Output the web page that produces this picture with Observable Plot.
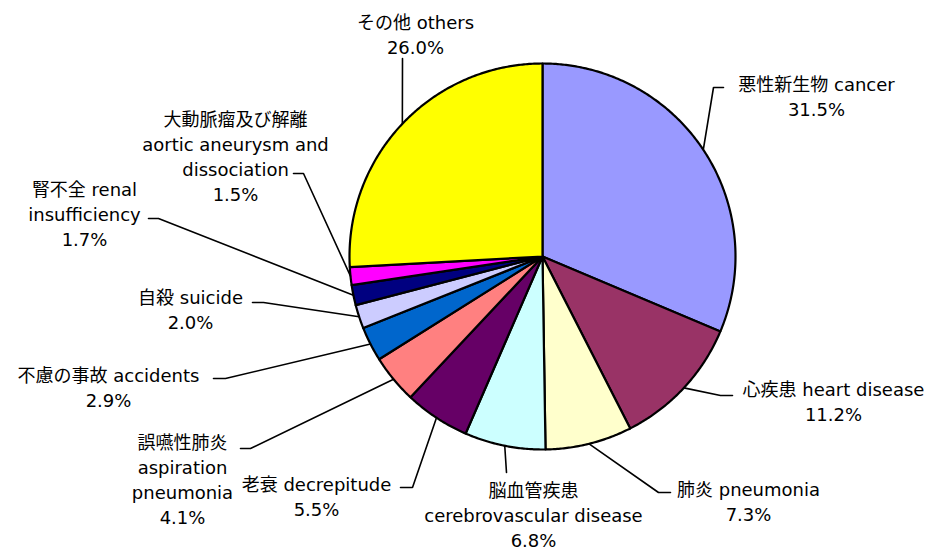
<!DOCTYPE html>
<html>
<head>
<meta charset="utf-8">
<script src="https://cdn.jsdelivr.net/npm/d3@7"></script>
<script src="https://cdn.jsdelivr.net/npm/@observablehq/plot@0.6"></script>
<style>
  html, body { margin: 0; padding: 0; background: #ffffff; }
  #chart svg { display: block; }
</style>
</head>
<body>
<div id="chart"></div>
<script>
// ---- data ----
const causesJa = ["悪性新生物", "心疾患", "肺炎", "脳血管疾患", "老衰", "誤嚥性肺炎", "不慮の事故", "自殺", "腎不全", "大動脈瘤及び解離", "その他"];
const causesEn = ["cancer", "heart disease", "pneumonia", "cerebrovascular disease", "decrepitude", "aspiration pneumonia", "accidents", "suicide", "renal insufficiency", "aortic aneurysm and dissociation", "others"];
const shares = [31.5, 11.2, 7.3, 6.8, 5.5, 4.1, 2.9, 2.0, 1.7, 1.5, 26.0];
const shareLabels = ["31.5%", "11.2%", "7.3%", "6.8%", "5.5%", "4.1%", "2.9%", "2.0%", "1.7%", "1.5%", "26.0%"];
// label text as wrapped in the reference
const labelLines = [
  ["悪性新生物 cancer"],
  ["心疾患 heart disease"],
  ["肺炎 pneumonia"],
  ["脳血管疾患", "cerebrovascular disease"],
  ["老衰 decrepitude"],
  ["誤嚥性肺炎", "aspiration", "pneumonia"],
  ["不慮の事故 accidents"],
  ["自殺 suicide"],
  ["腎不全 renal", "insufficiency"],
  ["大動脈瘤及び解離", "aortic aneurysm and", "dissociation"],
  ["その他 others"]
];

// ---- style ----
const palette = ["#9999FF", "#993366", "#FFFFCC", "#CCFFFF", "#660066", "#FF8080", "#0066CC", "#CCCCFF", "#000080", "#FF00FF", "#FFFF00"];

// ---- layout (plot units = pixels) ----
const CX = 542, CY = 256, R = 193;
const LH = 25;       // label line height
const FS = 18;       // font size
// label: centre x, centre y of first line; leader: elbow point and end of horizontal tick
const labelLayout = [
  {lx: 816, ly: 82,  ex: 713, ey: 87,  hx: 723},
  {lx: 833, ly: 387, ex: 720, ey: 395, hx: 732},
  {lx: 748, ly: 487, ex: 658, ey: 492, hx: 670},
  {lx: 533, ly: 488, ex: 506, ey: 472, hx: 506},
  {lx: 316, ly: 482, ex: 412, ey: 487, hx: 400},
  {lx: 182, ly: 440, ex: 250, ey: 448, hx: 240},
  {lx: 108, ly: 373, ex: 225, ey: 378, hx: 213},
  {lx: 190, ly: 295, ex: 263, ey: 302, hx: 252},
  {lx: 84,  ly: 187, ex: 158, ey: 218, hx: 148},
  {lx: 235, ly: 117, ex: 303, ey: 173, hx: 293},
  {lx: 415, ly: 20,  ex: 402, ey: 58,  hx: 402}
];

// ---- build geometry from data ----
const arcs = d3.pie().sort(null).value(d => d)(shares);

const slicePts = [];
arcs.forEach((a, i) => {
  slicePts.push({i, x: CX, y: CY, c: palette[i]});
  const n = Math.max(2, Math.ceil((a.endAngle - a.startAngle) / (Math.PI / 360)));
  for (let k = 0; k <= n; k++) {
    const t = a.startAngle + (a.endAngle - a.startAngle) * k / n;
    slicePts.push({i, x: CX + R * Math.sin(t), y: CY - R * Math.cos(t), c: palette[i]});
  }
});

const leaderPts = [];
arcs.forEach((a, i) => {
  const m = (a.startAngle + a.endAngle) / 2;
  const L = labelLayout[i];
  leaderPts.push({i, x: CX + R * Math.sin(m), y: CY - R * Math.cos(m)});
  leaderPts.push({i, x: L.ex, y: L.ey});
  if (L.hx !== L.ex) leaderPts.push({i, x: L.hx, y: L.ey});
});

const labels = arcs.map((a, i) => {
  const lines = [...labelLines[i], shareLabels[i]];
  const L = labelLayout[i];
  return {x: L.lx, y: L.ly + (lines.length - 1) * LH / 2, text: lines.join("\n")};
});

const chart = Plot.plot({
  width: 931,
  height: 552,
  margin: 0,
  x: {domain: [0, 931], range: [0, 931], axis: null},
  y: {domain: [0, 552], range: [0, 552], axis: null},
  color: {type: "identity"},
  style: {background: "#ffffff"},
  marks: [
    Plot.line(slicePts, {x: "x", y: "y", z: "i", fill: "c", stroke: "#000000", strokeWidth: 2.2, curve: "linear-closed", strokeLinejoin: "round"}),
    Plot.line(leaderPts, {x: "x", y: "y", z: "i", stroke: "#000000", strokeWidth: 1.6, strokeLinejoin: "miter"}),
    Plot.text(labels, {x: "x", y: "y", text: "text", fontSize: FS, lineHeight: LH / FS, fill: "#000000",
      fontFamily: "'DejaVu Sans', 'Noto Sans CJK JP', sans-serif", textAnchor: "middle", lineAnchor: "middle"})
  ]
});
document.getElementById("chart").appendChild(chart);
</script>
</body>
</html>
